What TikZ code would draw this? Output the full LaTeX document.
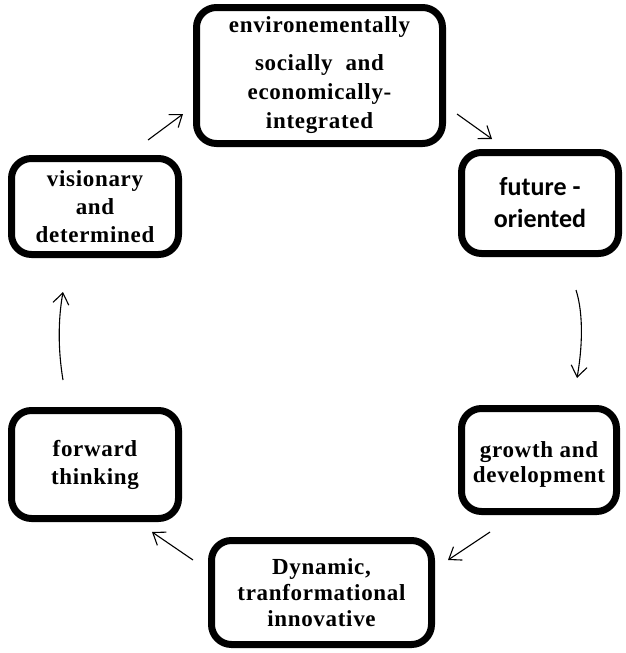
\documentclass[tikz,border=0pt]{standalone}
\usepackage{fontspec}
\setmainfont{Liberation Serif}[LetterSpace=3]
\newfontfamily\calibri{Carlito}
\usetikzlibrary{arrows.meta}

\begin{document}
\begin{tikzpicture}[x=1pt,y=-1pt,
  card/.style={draw=black, line width=7pt, rounded corners=20pt, fill=white,
    align=center, font=\bfseries\fontsize{23}{28}\selectfont, inner sep=0pt},
  flow/.style={line width=1.1pt, -{Straight Barb[length=11pt,width=16pt,line width=1.1pt]}}]
  \useasboundingbox (0,0) rectangle (625,653);

  % the six qualities, clockwise from the top
  \node[card, minimum width=246pt, minimum height=136pt,
        font=\bfseries\fontsize{23}{29}\selectfont] (integrated) at (319.5,75.5)
    {environementally\\[9pt]socially\ \ and\\economically-\\integrated};
  \node[card, minimum width=157pt, minimum height=101pt,
        font=\calibri\bfseries\fontsize{26}{32}\selectfont] (future) at (540,203)
    {future -\\oriented};
  \node[card, minimum width=155pt, minimum height=103pt,
        label={[align=center, yshift=-4pt, inner sep=0pt,
                font=\bfseries\fontsize{23}{25}\selectfont]center:growth and\\development}]
    (growth) at (539,460) {};
  \node[card, minimum width=220pt, minimum height=104pt,
        font=\bfseries\fontsize{23}{26}\selectfont] (dynamic) at (321.5,592.5)
    {Dynamic,\\tranformational\\innovative};
  \node[card, minimum width=167pt, minimum height=108pt] (forward) at (95,464.5)
    {forward\\thinking};
  \node[card, minimum width=167pt, minimum height=96pt] (visionary) at (95,206.5)
    {visionary\\and\\determined};

  % arrow ends between neighbouring cards
  \coordinate (v1) at (148,140);  \coordinate (v2) at (183,114);
  \coordinate (i1) at (457,114);  \coordinate (i2) at (492,139);
  \coordinate (f1) at (576,290);  \coordinate (f2) at (577,378);
  \coordinate (g1) at (490,532);  \coordinate (g2) at (448,560);
  \coordinate (d1) at (193,560);  \coordinate (d2) at (152,532);
  \coordinate (t1) at (63,380);   \coordinate (t2) at (63,292);

  \draw[flow] (v1) -- (v2);
  \draw[flow] (i1) -- (i2);
  \draw[flow] (f1) .. controls (584,315) and (582,350) .. (f2);
  \draw[flow] (g1) -- (g2);
  \draw[flow] (d1) -- (d2);
  \draw[flow] (t1) .. controls (58,350) and (58,320) .. (t2);
\end{tikzpicture}
\end{document}
